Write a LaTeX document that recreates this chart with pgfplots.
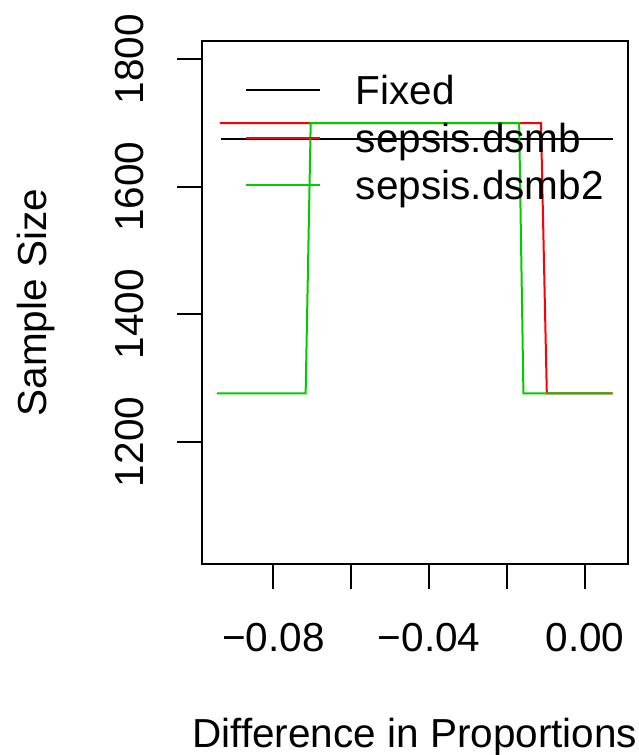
\documentclass[border=0pt]{standalone}
\usepackage{fontspec}
\setmainfont{Liberation Sans}
\usepackage{pgfplots}
\pgfplotsset{compat=1.18}
\definecolor{rgreen}{RGB}{0,205,0}
\definecolor{rred}{RGB}{255,0,0}
\newcommand{\bigfont}{\fontsize{40.5}{48}\selectfont}
\begin{document}
\bigfont
\begin{tikzpicture}
\path[use as bounding box] (0,0) rectangle (639pt,755pt);
\begin{axis}[
  at={(202pt,190.7pt)}, anchor=south west,
  scale only axis, width=425.7pt, height=523.3pt,
  xmin=-0.0983, xmax=0.01096, ymin=1008.2, ymax=1828.7,
  scaled x ticks=false, scaled y ticks=false,
  axis line style={line width=2.2pt},
  every tick/.style={line width=2pt, black},
  tick align=outside, major tick length=25pt,
  xtick pos=bottom, ytick pos=left,
  xtick={-0.08,-0.06,-0.04,-0.02,0},
  xticklabels={−0.08,,−0.04,,0.00},
  ytick={1200,1400,1600,1800},
  yticklabels={1200,1400,1600,1800},
  tick label style={font=\bigfont},
  xticklabel style={anchor=base, yshift=-62.4pt},
  yticklabel style={rotate=90, anchor=base, yshift=33.7pt},
  xlabel={Difference in Proportions},
  ylabel={Sample Size},
  label style={font=\bigfont},
  xlabel style={at={(axis description cs:0.5,0)}, anchor=base, yshift=-182.7pt},
  ylabel style={at={([xshift=-155pt]axis description cs:0,0.5)}, anchor=base},
  legend cell align=left,
  legend style={at={(axis description cs:0.101,0.9394)}, anchor=north west,
    draw=none, fill=none, inner sep=0pt, outer sep=0pt,
    font=\bigfont, row sep=12.6pt, column sep=35pt,
    nodes={inner sep=0pt, text height=32pt, text depth=2.8pt}},
  legend image code/.code={\draw[#1] (0pt,0pt) -- (74pt,0pt);},
]
% fixed design
\addplot[black, line width=2pt] coordinates {(-0.0934,1675) (0.0071,1675)};
\addlegendentry{Fixed}
% sepsis.dsmb
\addplot[rred, line width=2pt] coordinates {
  (-0.0937,1700) (-0.0113,1700) (-0.0098,1276) (0.0071,1276)};
\addlegendentry{sepsis.dsmb}
% sepsis.dsmb2
\addplot[rgreen, line width=2pt] coordinates {
  (-0.0945,1276) (-0.0717,1276) (-0.0704,1700)
  (-0.0169,1700) (-0.0158,1276) (0.0071,1276)};
\addlegendentry{sepsis.dsmb2}
\end{axis}
\end{tikzpicture}
\end{document}
